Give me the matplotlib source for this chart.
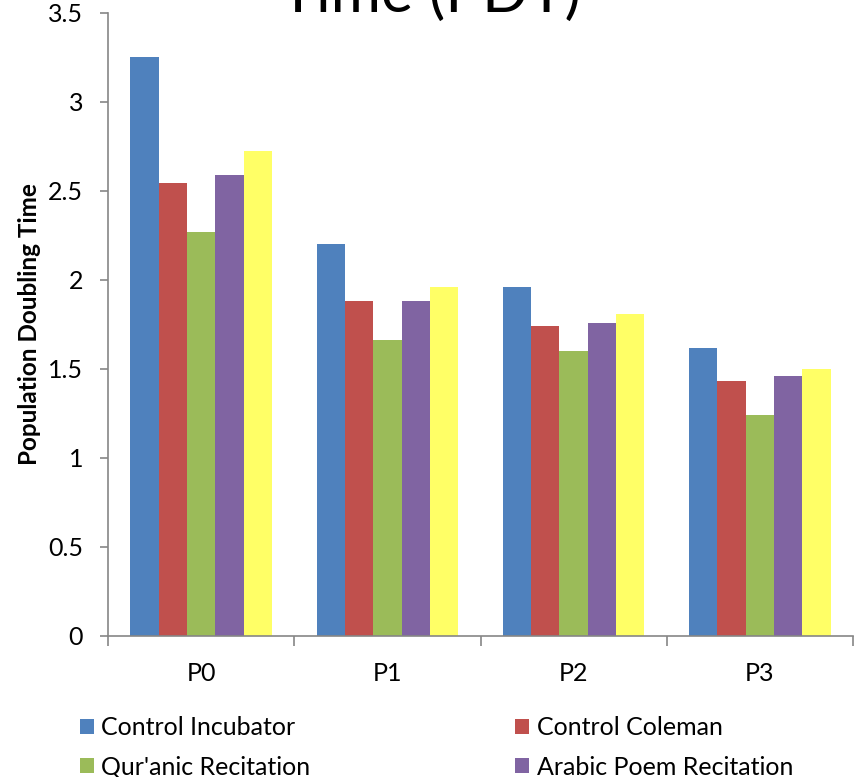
import numpy as np
import matplotlib
matplotlib.use('Agg')
import matplotlib.pyplot as plt
from matplotlib.ticker import FuncFormatter

plt.rcParams['font.family'] = ['Lato', 'DejaVu Sans']

# passages and PDT per treatment group
passages = ['P0', 'P1', 'P2', 'P3']
groups = ['Control Incubator', 'Control Coleman', "Qur'anic Recitation",
          'Arabic Poem Recitation', 'Classical Music']
control_incubator = [3.25, 2.20, 1.96, 1.62]
control_coleman = [2.545, 1.88, 1.74, 1.43]
quranic = [2.27, 1.66, 1.60, 1.24]
arabic_poem = [2.59, 1.88, 1.76, 1.46]
classical_music = [2.725, 1.96, 1.81, 1.50]
colors = ['#4F81BD', '#C0504D', '#9BBB59', '#8064A2', '#FFFF66']

series = [control_incubator, control_coleman, quranic, arabic_poem, classical_music]

fig = plt.figure(figsize=(8.6, 7.77), dpi=100)
ax = fig.add_axes([0.1256, 0.1815, 0.9919 - 0.1256, 0.9833 - 0.1815])

x = np.arange(len(passages))
w = 0.152
handles = []
for i, (vals, col) in enumerate(zip(series, colors)):
    b = ax.bar(x + (i - 2) * w, vals, width=w, color=col, label=groups[i])
    handles.append(b)

ax.set_xlim(-0.5, 3.5)
ax.set_ylim(0, 3.5)
ax.set_yticks(np.arange(0, 3.51, 0.5))
ax.yaxis.set_major_formatter(FuncFormatter(lambda v, p: '%g' % v))
ax.set_xticks(x)
ax.set_xticklabels(passages)
ax.set_xticks(np.arange(-0.5, 3.6, 1), minor=True)

gray = '#868686'
for s in ['top', 'right']:
    ax.spines[s].set_visible(False)
for s in ['left', 'bottom']:
    ax.spines[s].set_color(gray)
    ax.spines[s].set_linewidth(1.2)
ax.tick_params(axis='x', which='major', length=0, pad=19, labelsize=18)
ax.tick_params(axis='x', which='minor', length=7, color=gray, width=1.2)
ax.tick_params(axis='y', length=6, color=gray, width=1.2, pad=12, labelsize=18)
ax.set_ylabel('Population Doubling Time', fontsize=17.5, fontweight='bold', labelpad=5)

# second line of the chart title
fig.text(0.5, 1 - 12 / 777, 'Time (PDT)', ha='center', va='baseline', fontsize=44)

# legend filled row by row, two columns
order = [0, 2, 4, 1, 3]
fig.legend([handles[i] for i in order], [groups[i] for i in order],
           loc='upper left', bbox_to_anchor=(0.093, 0.0785), ncol=2,
           frameon=False, fontsize=18, handlelength=0.55, handleheight=0.55,
           handletextpad=0.3, columnspacing=8.2, labelspacing=0.67,
           borderaxespad=0, borderpad=0)

fig.savefig('out.png', dpi=100)
